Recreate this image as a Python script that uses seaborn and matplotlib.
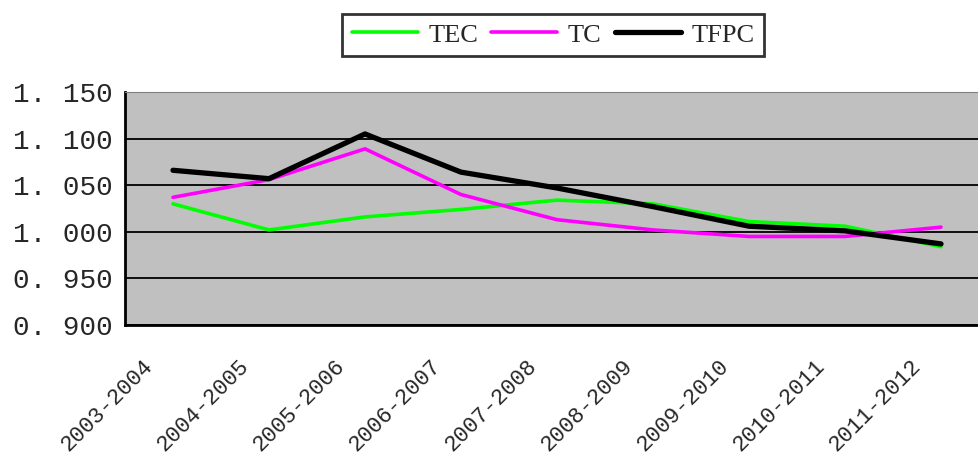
import pandas as pd
import matplotlib
matplotlib.use('Agg')
import matplotlib.pyplot as plt
import seaborn as sns

# Data
periods = ['2003-2004', '2004-2005', '2005-2006', '2006-2007', '2007-2008',
           '2008-2009', '2009-2010', '2010-2011', '2011-2012']
tec = [1.030, 1.002, 1.016, 1.024, 1.034, 1.030, 1.011, 1.006, 0.984]
tc = [1.037, 1.056, 1.089, 1.040, 1.013, 1.002, 0.995, 0.995, 1.005]
tfpc = [1.066, 1.057, 1.105, 1.064, 1.047, 1.027, 1.006, 1.001, 0.987]
y_ticks = [0.900, 0.950, 1.000, 1.050, 1.100, 1.150]

df = pd.DataFrame({'period': periods, 'TEC': tec, 'TC': tc, 'TFPC': tfpc})
df['x'] = range(len(periods))

sns.set_style('white')
plt.rcParams['font.family'] = ['Liberation Serif', 'DejaVu Serif']

fig = plt.figure(figsize=(9.79, 4.61), dpi=100)
ax = fig.add_axes([125 / 979, 136 / 461, 864 / 979, 233 / 461])
ax.set_facecolor('#c0c0c0')

# Series
sns.lineplot(data=df, x='x', y='TEC', color='#00ff00', linewidth=2.6, label='TEC', ax=ax)
sns.lineplot(data=df, x='x', y='TC', color='#ff00ff', linewidth=2.6, label='TC', ax=ax)
sns.lineplot(data=df, x='x', y='TFPC', color='black', linewidth=3.8, label='TFPC', ax=ax)

# Axes limits and grid
ax.set_xlim(-0.5, len(periods) - 0.5)
ax.set_ylim(0.900, 1.150)
ax.set_yticks(y_ticks)
ax.set_yticklabels([f'{v:.3f}'.replace('.', '. ') for v in y_ticks],
                   fontsize=20, family='Liberation Mono')
ax.yaxis.grid(True, color='black', linewidth=1.3)
ax.xaxis.grid(False)
ax.set_axisbelow(True)

# Category boundaries get the tick marks; rotated labels end a bit left of centre
ax.set_xticks([i + 0.5 for i in range(len(periods) - 1)], minor=True)
ax.set_xticks(df['x'] - 0.32)
ax.set_xticklabels(periods, rotation=45, ha='right', rotation_mode='anchor',
                   fontsize=16, family='Liberation Mono')
ax.tick_params(axis='x', which='major', length=0, pad=22)
ax.tick_params(axis='x', which='minor', length=6, width=1.3, color='black', direction='out')
ax.tick_params(axis='y', length=6, width=1.3, color='black', direction='out', pad=3)
ax.set_xlabel('')
ax.set_ylabel('')

for side in ['left', 'bottom']:
    ax.spines[side].set_color('black')
    ax.spines[side].set_linewidth(2)
ax.spines['top'].set_color('#808080')
ax.spines['right'].set_visible(False)

leg = ax.legend(loc='center', bbox_to_anchor=(553 / 979, 1 - 35 / 461), bbox_transform=fig.transFigure,
                ncol=3, fontsize=19, frameon=True, fancybox=False, handlelength=2.5,
                handletextpad=0.4, columnspacing=0.5, borderpad=0.35)
leg.get_frame().set_edgecolor('black')
leg.get_frame().set_linewidth(2)

fig.savefig('out.png', dpi=100)
